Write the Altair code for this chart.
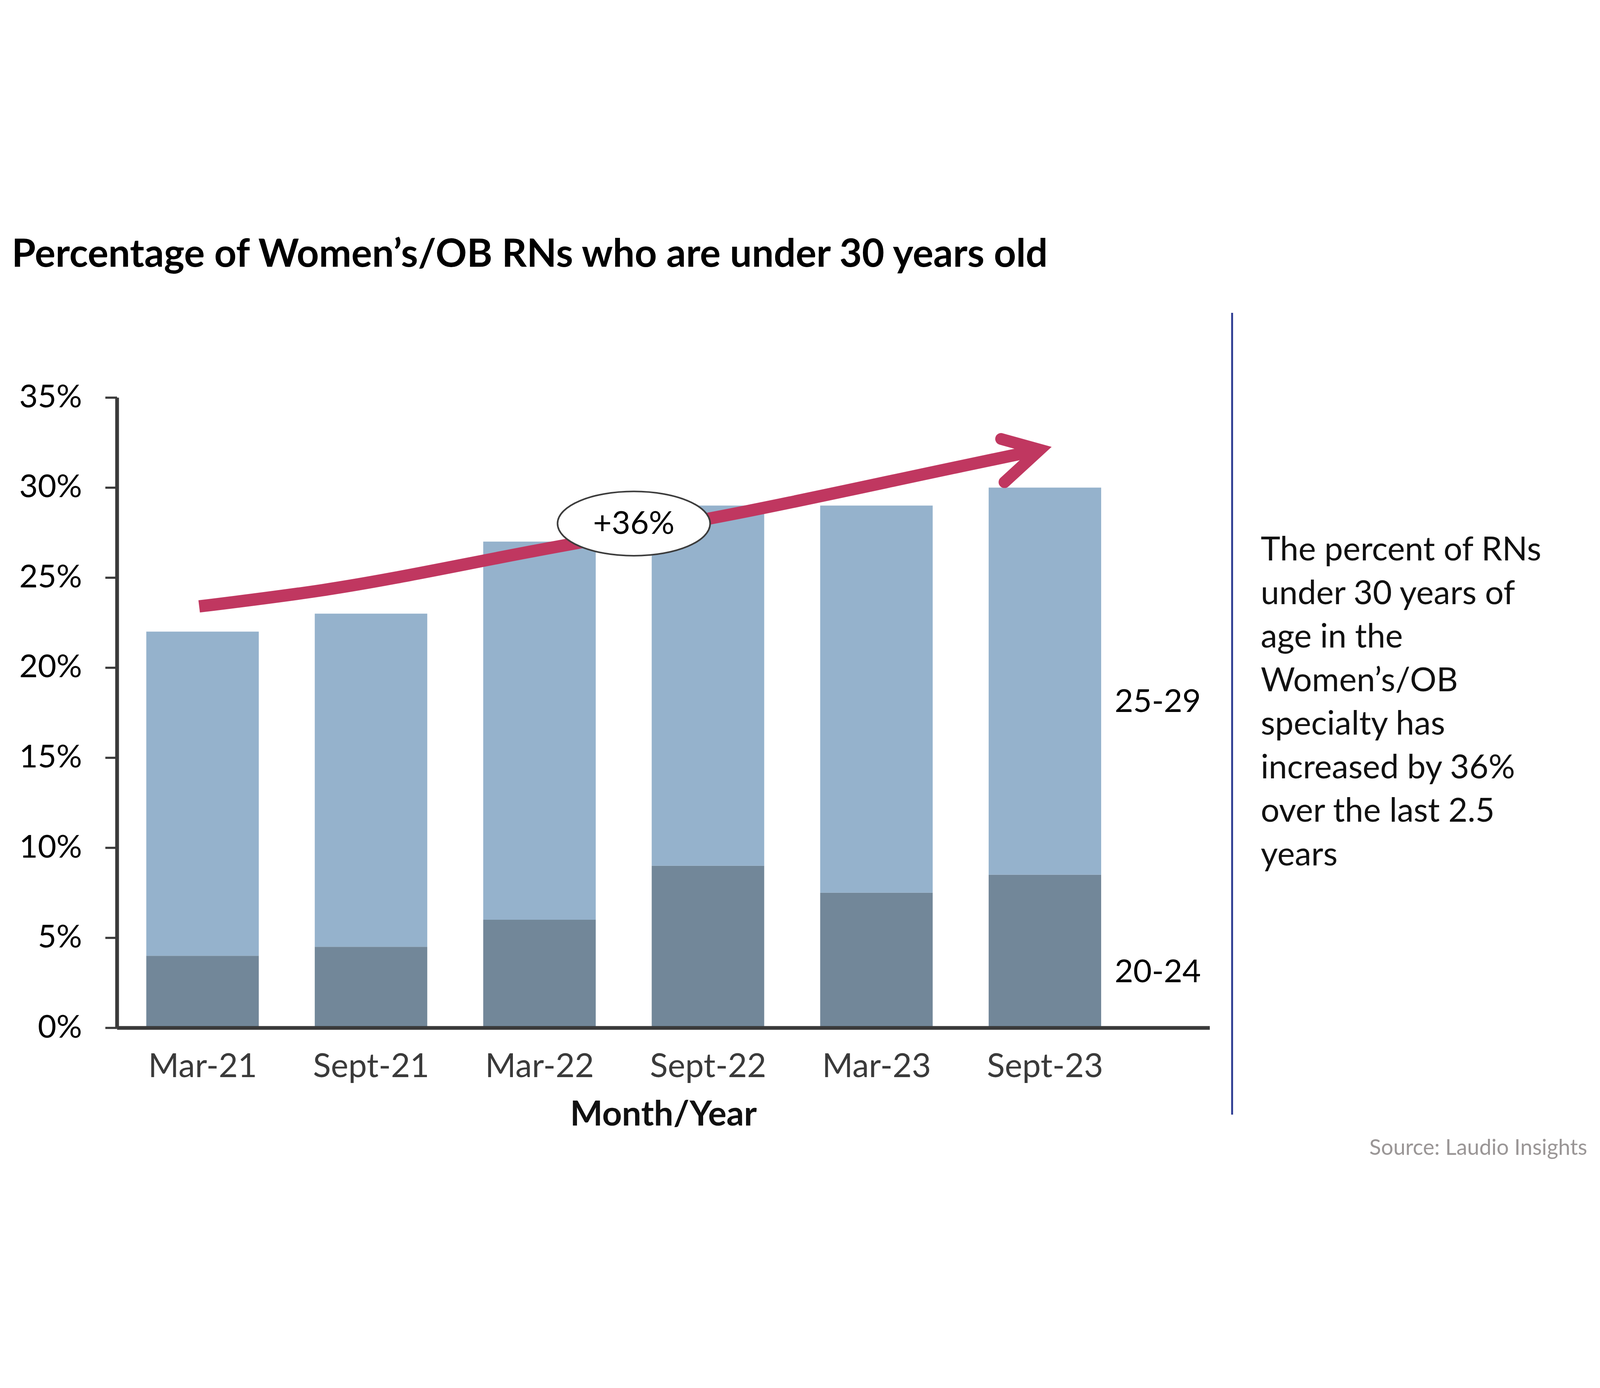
import altair as alt
import pandas as pd

# ---------------- data ----------------
months = ["Mar-21", "Sept-21", "Mar-22", "Sept-22", "Mar-23", "Sept-23"]
age_20_24 = [4.0, 4.5, 6.0, 9.0, 7.5, 8.5]
age_25_29 = [18.0, 18.5, 21.0, 20.0, 21.5, 21.5]
series_names = ["20-24", "25-29"]
y_ticks = [0, 5, 10, 15, 20, 25, 30, 35]

# hand-drawn trend arrow (index on x, percent on y)
arrow_x = [-0.02, 0.71, 1.98, 3.24, 4.51, 4.97]
arrow_y = [23.4, 24.3, 26.5, 28.7, 31.2, 32.1]
head_x = [4.74, 4.97, 4.76]
head_y = [32.7, 32.1, 30.3]
badge_x = [2.56]
badge_y = [28.0]
badge_text = ["+36%"]

title_text = "Percentage of Women\u2019s/OB RNs who are under 30 years old"
side_lines = ["The percent of RNs", "under 30 years of", "age in the",
              "Women\u2019s/OB", "specialty has", "increased by 36%",
              "over the last 2.5", "years"]
source_text = "Source: Laudio Insights"

# ---------------- style ----------------
FONT = "Lato"
DARK = "#728799"
LIGHT = "#95B2CC"
ARROW = "#C03760"
AXIS = "#3A3A3A"

W, H = 4089, 2359
X_DOMAIN = [-0.5, 5.97]
Y_DOMAIN = [0, 35]

xs = alt.Scale(domain=X_DOMAIN, nice=False, zero=False)
ys = alt.Scale(domain=Y_DOMAIN, nice=False)

label_expr = "[" + ",".join("'%s'" % m for m in months) + "][datum.value]"

x_axis = alt.Axis(values=list(range(len(months))), labelExpr=label_expr,
                  ticks=False, tickSize=0, grid=False,
                  domainColor=AXIS, domainWidth=14,
                  labelFont=FONT, labelFontSize=124, labelColor="#3A3A3A",
                  labelPadding=86, labelFlush=False, labelLimit=2000,
                  labelOverlap=False,
                  title="Month/Year", titleFont=FONT, titleFontSize=129,
                  titleFontWeight="bold", titleColor="#111111",
                  titlePadding=64, titleLimit=3000, zindex=1)
y_axis = alt.Axis(values=y_ticks, labelExpr="datum.value + '%'",
                  grid=False, ticks=True, tickSize=44, tickWidth=8,
                  tickColor=AXIS, domainColor=AXIS, domainWidth=14,
                  labelFont=FONT, labelFontSize=120, labelColor="#000000",
                  labelPadding=87, labelLimit=2000, labelOverlap=False,
                  title=None, zindex=1)


def X(field):
    return alt.X(field, scale=xs, axis=x_axis, title="Month/Year")


def Y(field, **kw):
    return alt.Y(field, scale=ys, axis=y_axis, title=None, **kw)


rows = []
for i, m in enumerate(months):
    rows.append({"idx": i, "month": m, "series": series_names[0], "value": age_20_24[i], "ord": 0})
    rows.append({"idx": i, "month": m, "series": series_names[1], "value": age_25_29[i], "ord": 1})
bars_df = pd.DataFrame(rows)

bars = alt.Chart(bars_df).mark_bar(size=421).encode(
    x=X("idx:Q"),
    y=Y("value:Q", stack="zero"),
    color=alt.Color("series:N", scale=alt.Scale(domain=series_names, range=[DARK, LIGHT]),
                    legend=None),
    order=alt.Order("ord:Q"),
)

arrow_df = pd.DataFrame({"ax": arrow_x, "ay": arrow_y, "o": list(range(len(arrow_x)))})
arrow = alt.Chart(arrow_df).mark_line(color=ARROW, strokeWidth=46, strokeCap="butt",
                                      interpolate="monotone").encode(
    x=X("ax:Q"), y=Y("ay:Q"), order="o:Q",
)

head_df = pd.DataFrame({"hx": head_x, "hy": head_y, "o": list(range(len(head_x)))})
head = alt.Chart(head_df).mark_line(color=ARROW, strokeWidth=44, strokeCap="round",
                                    strokeJoin="miter", strokeMiterLimit=10).encode(
    x=X("hx:Q"), y=Y("hy:Q"), order="o:Q",
)

r = 0.422
k = 0.5523
ellipse_path = (
    f"M -1 0 C -1 {-k*r:.4f} {-k:.4f} {-r} 0 {-r} "
    f"C {k:.4f} {-r} 1 {-k*r:.4f} 1 0 "
    f"C 1 {k*r:.4f} {k:.4f} {r} 0 {r} "
    f"C {-k:.4f} {r} -1 {k*r:.4f} -1 0 Z"
)
badge_df = pd.DataFrame({"bx": badge_x, "by": badge_y, "t": badge_text})
badge = alt.Chart(badge_df).mark_point(shape=ellipse_path, size=571 * 571, filled=True,
                                       fill="white", stroke="#3C3C3C", strokeWidth=6,
                                       opacity=1).encode(
    x=X("bx:Q"), y=Y("by:Q"),
)
badge_txt = alt.Chart(badge_df).mark_text(font=FONT, fontSize=120, color="#000000",
                                          align="center", baseline="middle", dy=2).encode(
    x=X("bx:Q"), y=Y("by:Q"), text="t:N",
)

last = len(months) - 1
lab_df = pd.DataFrame({
    "lx": [last, last],
    "ly": [age_20_24[last] / 2, age_20_24[last] + age_25_29[last] / 2],
    "t": series_names,
})
seg_labels = alt.Chart(lab_df).mark_text(font=FONT, fontSize=120, color="#000000",
                                         align="left", baseline="middle", dx=261, dy=80).encode(
    x=X("lx:Q"), y=Y("ly:Q"), text="t:N",
)

title = alt.Chart(pd.DataFrame({"t": [title_text]})).mark_text(
    font=FONT, fontSize=145, fontWeight="bold", color="#000000",
    align="left", baseline="alphabetic").encode(
    x=alt.value(40 - 434), y=alt.value(180 - 670), text="t:N")

sep = alt.Chart(pd.DataFrame({"a": [0]})).mark_rule(color="#2B3990", strokeWidth=7).encode(
    x=alt.value(4607 - 434), y=alt.value(353 - 670), y2=alt.value(3354 - 670))

side = alt.Chart(pd.DataFrame({"t": ["\n".join(side_lines)]})).mark_text(
    font=FONT, fontSize=124, color="#111111", align="left", baseline="alphabetic",
    lineBreak="\n", lineHeight=163).encode(
    x=alt.value(4714 - 434), y=alt.value(1280 - 670), text="t:N")

source = alt.Chart(pd.DataFrame({"t": [source_text]})).mark_text(
    font=FONT, fontSize=81, color="#9A9696", align="right", baseline="alphabetic").encode(
    x=alt.value(5936 - 434), y=alt.value(3505 - 670), text="t:N")

chart = alt.layer(bars, arrow, head, badge, badge_txt, seg_labels, title, sep, side, source).properties(
    width=W, height=H,
    padding={"left": 32, "top": 57, "right": 36, "bottom": 8},
    background="white",
).configure_view(stroke=None)

chart.save("out.html", embed_options={"renderer": "svg", "actions": False})
